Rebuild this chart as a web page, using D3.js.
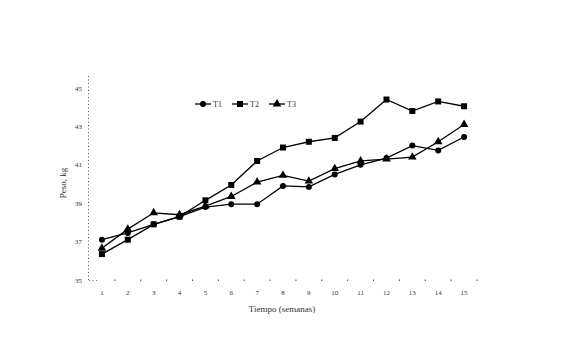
<!DOCTYPE html>
<html>
<head>
<meta charset="utf-8">
<script src="https://cdn.jsdelivr.net/npm/d3@7"></script>
<style>
  body { margin: 0; background: #fff; }
  svg text { font-family: "Liberation Serif", "DejaVu Serif", serif; fill: #333; }
</style>
</head>
<body>
<svg id="chart" width="580" height="361"></svg>
<script>
const weeks = [1, 2, 3, 4, 5, 6, 7, 8, 9, 10, 11, 12, 13, 14, 15]
const t1 = [37.1, 37.45, 37.9, 38.3, 38.8, 38.95, 38.95, 39.9, 39.85, 40.5, 41.0, 41.35, 42.0, 41.75, 42.45]
const t2 = [36.35, 37.1, 37.9, 38.3, 39.15, 39.95, 41.2, 41.9, 42.2, 42.4, 43.25, 44.4, 43.8, 44.3, 44.05]
const t3 = [36.65, 37.65, 38.5, 38.4, 38.85, 39.35, 40.1, 40.45, 40.15, 40.8, 41.2, 41.3, 41.4, 42.2, 43.1]
const yTicks = [35, 37, 39, 41, 43, 45]
const seriesNames = ['T1', 'T2', 'T3']

const svg = d3.select('#chart')

const x = d3.scaleBand().domain(weeks).range([89, 477])
const y = d3.scaleLinear().domain([35, 45]).range([280, 88])
const cx = d => x(d) + x.bandwidth() / 2

// y axis, dotted
svg.append('line')
    .attr('x1', 88.5).attr('x2', 88.5)
    .attr('y1', y(35)).attr('y2', 75)
    .attr('stroke', '#555')
    .attr('stroke-width', 1)
    .attr('stroke-dasharray', '1,2.5')

svg.append('g')
    .selectAll('text')
    .data(yTicks)
    .enter().append('text')
    .attr('x', 82)
    .attr('y', d => y(d) + 2.5)
    .attr('text-anchor', 'end')
    .attr('font-size', 7)
    .text(d => d)

// x axis: only tick dots on band edges
svg.append('line')
    .attr('x1', 89).attr('x2', 98)
    .attr('y1', 280.5).attr('y2', 280.5)
    .attr('stroke', '#777')
    .attr('stroke-dasharray', '1,2.5')

svg.append('g')
    .selectAll('rect')
    .data(weeks)
    .enter().append('rect')
    .attr('x', d => x(d) + x.bandwidth() - 0.5)
    .attr('y', 279.5)
    .attr('width', 1).attr('height', 1.5)
    .attr('fill', '#444')

svg.append('g')
    .selectAll('text')
    .data(weeks)
    .enter().append('text')
    .attr('x', d => cx(d))
    .attr('y', 295)
    .attr('text-anchor', 'middle')
    .attr('font-size', 7)
    .text(d => d)

// axis titles
svg.append('text')
    .attr('transform', 'translate(66,183) rotate(-90)')
    .attr('text-anchor', 'middle')
    .attr('font-size', 9)
    .text('Peso, kg')

svg.append('text')
    .attr('x', 282)
    .attr('y', 312)
    .attr('text-anchor', 'middle')
    .attr('font-size', 9)
    .text('Tiempo (semanas)')

// lines
const series = [t1, t2, t3]
const line = d3.line()
    .x((d, i) => cx(weeks[i]))
    .y(d => y(d))

svg.append('g')
    .selectAll('path')
    .data(series)
    .enter().append('path')
    .attr('d', d => line(d))
    .attr('fill', 'none')
    .attr('stroke', '#000')
    .attr('stroke-width', 1.3)

const sym = [d3.symbolCircle, d3.symbolSquare, d3.symbolTriangle]
const symSize = [28, 36, 32]

series.forEach((s, k) => {
    svg.append('g')
        .selectAll('path')
        .data(s)
        .enter().append('path')
        .attr('transform', (d, i) => 'translate(' + cx(weeks[i]) + ',' + y(d) + ')')
        .attr('d', d3.symbol().type(sym[k]).size(symSize[k]))
        .attr('fill', '#000')
})

// legend
const legend = svg.append('g')
    .selectAll('g')
    .data(seriesNames)
    .enter().append('g')
    .attr('transform', (d, i) => 'translate(' + (195 + i * 37) + ',104)')

legend.append('line')
    .attr('x1', 0).attr('x2', 16)
    .attr('stroke', '#000')
    .attr('stroke-width', 1.3)

legend.append('path')
    .attr('transform', 'translate(8,0)')
    .attr('d', (d, i) => d3.symbol().type(sym[i]).size(symSize[i])())
    .attr('fill', '#000')

legend.append('text')
    .attr('x', 18)
    .attr('y', 3)
    .attr('font-size', 8)
    .text(d => d)
</script>
</body>
</html>
